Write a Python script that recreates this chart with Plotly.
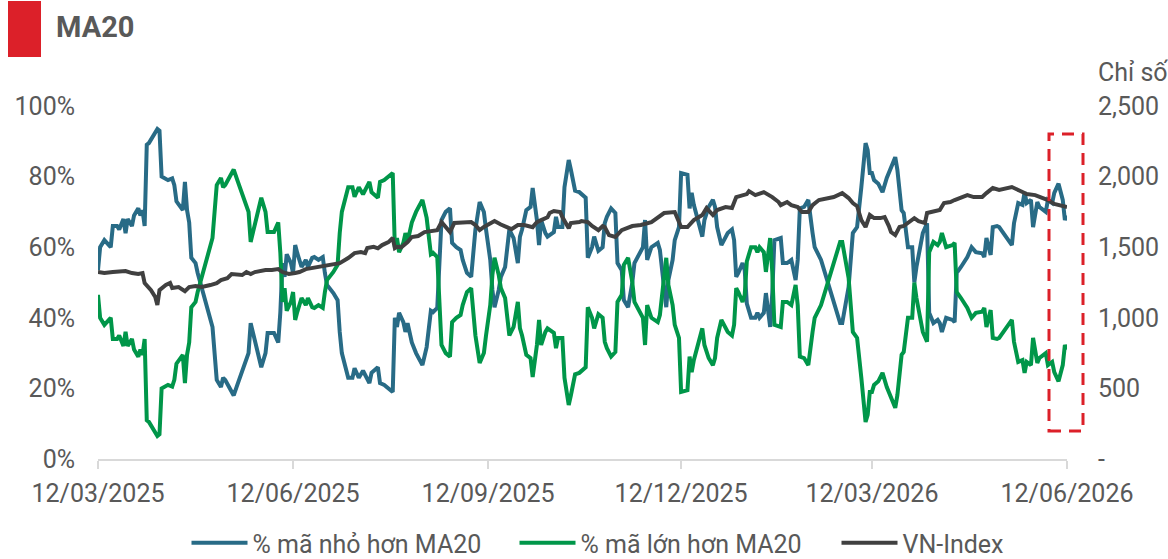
import plotly.graph_objects as go

# ---------------- DATA ----------------
pct_dates = [
    "2025-03-12", "2025-03-13", "2025-03-15", "2025-03-18", "2025-03-19", "2025-03-21", "2025-03-22", "2025-03-24", "2025-03-25", "2025-03-26",
    "2025-03-28", "2025-03-29", "2025-03-31", "2025-04-01", "2025-04-02", "2025-04-03", "2025-04-04", "2025-04-05", "2025-04-09", "2025-04-10",
    "2025-04-11", "2025-04-14", "2025-04-16", "2025-04-17", "2025-04-18", "2025-04-20", "2025-04-21", "2025-04-22", "2025-04-23", "2025-04-24",
    "2025-04-25", "2025-04-27", "2025-04-28", "2025-05-05", "2025-05-07", "2025-05-09", "2025-05-10", "2025-05-11", "2025-05-13", "2025-05-15",
    "2025-05-17", "2025-05-19", "2025-05-20", "2025-05-22", "2025-05-23", "2025-05-24", "2025-05-26", "2025-05-28", "2025-05-30", "2025-05-31",
    "2025-06-03", "2025-06-05", "2025-06-06", "2025-06-07", "2025-06-08", "2025-06-09", "2025-06-11", "2025-06-12", "2025-06-13", "2025-06-14",
    "2025-06-16", "2025-06-18", "2025-06-19", "2025-06-21", "2025-06-22", "2025-06-24", "2025-06-26", "2025-06-27", "2025-06-28", "2025-07-01",
    "2025-07-03", "2025-07-04", "2025-07-05", "2025-07-08", "2025-07-10", "2025-07-11", "2025-07-13", "2025-07-15", "2025-07-17", "2025-07-18",
    "2025-07-19", "2025-07-22", "2025-07-23", "2025-07-25", "2025-07-29", "2025-07-30", "2025-07-31", "2025-08-01", "2025-08-03", "2025-08-04",
    "2025-08-05", "2025-08-07", "2025-08-09", "2025-08-12", "2025-08-14", "2025-08-16", "2025-08-17", "2025-08-19", "2025-08-21", "2025-08-23",
    "2025-08-25", "2025-08-26", "2025-08-28", "2025-08-30", "2025-08-31", "2025-09-02", "2025-09-04", "2025-09-06", "2025-09-08", "2025-09-10",
    "2025-09-11", "2025-09-13", "2025-09-14", "2025-09-15", "2025-09-17", "2025-09-18", "2025-09-20", "2025-09-22", "2025-09-24", "2025-09-26",
    "2025-09-27", "2025-09-28", "2025-09-30", "2025-10-02", "2025-10-03", "2025-10-05", "2025-10-06", "2025-10-07", "2025-10-09", "2025-10-10",
    "2025-10-13", "2025-10-14", "2025-10-15", "2025-10-17", "2025-10-18", "2025-10-20", "2025-10-21", "2025-10-23", "2025-10-25", "2025-10-28",
    "2025-10-29", "2025-10-31", "2025-11-01", "2025-11-03", "2025-11-05", "2025-11-06", "2025-11-07", "2025-11-09", "2025-11-11", "2025-11-12",
    "2025-11-14", "2025-11-15", "2025-11-17", "2025-11-19", "2025-11-20", "2025-11-23", "2025-11-24", "2025-11-25", "2025-11-26", "2025-11-28",
    "2025-12-01", "2025-12-02", "2025-12-03", "2025-12-05", "2025-12-06", "2025-12-08", "2025-12-09", "2025-12-11", "2025-12-12", "2025-12-15",
    "2025-12-16", "2025-12-17", "2025-12-18", "2025-12-20", "2025-12-22", "2025-12-23", "2025-12-25", "2025-12-27", "2025-12-28", "2025-12-29",
    "2025-12-31", "2026-01-03", "2026-01-05", "2026-01-06", "2026-01-07", "2026-01-08", "2026-01-10", "2026-01-11", "2026-01-12", "2026-01-14",
    "2026-01-16", "2026-01-17", "2026-01-18", "2026-01-20", "2026-01-21", "2026-01-23", "2026-01-24", "2026-01-25", "2026-01-28", "2026-01-29",
    "2026-01-31", "2026-02-02", "2026-02-04", "2026-02-05", "2026-02-06", "2026-02-08", "2026-02-10", "2026-02-12", "2026-02-13", "2026-02-16",
    "2026-02-19", "2026-02-22", "2026-02-25", "2026-02-26", "2026-03-01", "2026-03-03", "2026-03-05", "2026-03-07", "2026-03-09", "2026-03-10",
    "2026-03-11", "2026-03-12", "2026-03-13", "2026-03-15", "2026-03-17", "2026-03-19", "2026-03-23", "2026-03-24", "2026-03-26", "2026-03-27",
    "2026-03-29", "2026-03-31", "2026-04-01", "2026-04-02", "2026-04-04", "2026-04-05", "2026-04-07", "2026-04-08", "2026-04-10", "2026-04-12",
    "2026-04-13", "2026-04-14", "2026-04-16", "2026-04-19", "2026-04-20", "2026-04-21", "2026-04-23", "2026-04-26", "2026-04-28", "2026-04-30",
    "2026-05-03", "2026-05-04", "2026-05-05", "2026-05-07", "2026-05-08", "2026-05-10", "2026-05-11", "2026-05-13", "2026-05-15", "2026-05-17",
    "2026-05-18", "2026-05-20", "2026-05-22", "2026-05-23", "2026-05-24", "2026-05-26", "2026-05-27", "2026-05-29", "2026-05-30", "2026-06-02",
    "2026-06-03", "2026-06-05", "2026-06-06", "2026-06-08", "2026-06-10", "2026-06-11", "2026-06-12",
]

below_ma20 = [
    53.5, 60, 62, 60, 66, 66, 65, 68, 64, 68,
    66, 69, 71, 69, 70.5, 66, 89, 89.5, 93.5, 93,
    80, 79, 79.5, 77.6, 73, 71.5, 70.5, 78.5, 70.5, 67,
    57, 55.5, 52.7, 37.4, 22.4, 20.4, 23, 22.4, 20.4, 18,
    21.5, 25, 27, 30, 38.5, 35.7, 31, 26, 30, 35.7,
    35.7, 33, 41.6, 55.5, 51.6, 58, 55.5, 52.7, 60.6, 58.3,
    54.4, 56.4, 54.4, 57, 57.2, 56.4, 57.2, 52.7, 49.3, 47,
    45, 36, 30, 23, 23, 25.7, 23, 25, 23, 21.5,
    24.4, 26, 21.5, 21, 19, 40, 37.4, 41.4, 38.8, 36,
    38.5, 33, 30, 26.6, 31.7, 42, 41.6, 42.8, 67.7, 70,
    71, 61.2, 60, 59.2, 56.4, 52.7, 51.6, 65, 72.8, 70,
    65, 56.4, 47.9, 43, 47.9, 51.6, 54.4, 65, 62.6, 55.5,
    63, 65, 70.5, 71.4, 76.8, 67.7, 60.6, 67.7, 64, 63,
    64.3, 68.6, 65.7, 65.7, 77, 84.7, 82, 76, 75.6, 74,
    57, 60, 63, 59, 60, 66.8, 68.6, 71, 69.7, 55.5,
    53.5, 45, 43, 50, 55.5, 59.2, 60, 67.7, 56.4, 60,
    61.2, 59.2, 54.4, 43, 50.7, 56.4, 62, 65.7, 81, 80.5,
    71, 75.4, 72, 67.7, 63, 67.7, 71.4, 73.4, 71.4, 65.7,
    60.6, 64, 65, 62, 51.6, 52.7, 55.5, 53.5, 44, 40,
    40, 41.4, 40, 41.4, 47, 37.4, 47, 62, 62.6, 55.5,
    55.5, 56.4, 50.7, 56.4, 71, 71.4, 73.4, 64, 60, 56.4,
    50.7, 45, 38.5, 38.5, 48.7, 64, 65.7, 77, 89.5, 87.5,
    81, 81, 79, 78, 75.6, 79.6, 85.5, 81.9, 70.5, 69.7,
    60, 60, 50, 54.4, 60, 64, 66.8, 41.4, 38.5, 39.4,
    38.5, 36, 40, 39.4, 38.8, 52.7, 54.4, 57.2, 60, 58.6,
    58.3, 57.2, 62.6, 57.8, 65.7, 66, 65.7, 64, 62.6, 60.6,
    66.8, 72.5, 72, 75.6, 72.5, 73.4, 65.7, 72.8, 71.4, 70,
    73.4, 72.5, 75.4, 78, 73.4, 67.7, 69,
]

above_ma20 = [
    46.5, 40, 38, 40, 34, 34, 35, 32, 36, 32,
    34, 31, 29, 31, 29.5, 34, 11, 10.5, 6.5, 7,
    20, 21, 20.5, 22.4, 27, 28.5, 29.5, 21.5, 29.5, 33,
    43, 44.5, 47.3, 62.6, 77.6, 79.6, 77, 77.6, 79.6, 82,
    78.5, 75, 73, 70, 61.5, 64.3, 69, 74, 70, 64.3,
    64.3, 67, 58.4, 44.5, 48.4, 42, 44.5, 47.3, 39.4, 41.7,
    45.6, 43.6, 45.6, 43, 42.8, 43.6, 42.8, 47.3, 50.7, 53,
    55, 64, 70, 77, 77, 74.3, 77, 75, 77, 78.5,
    75.6, 74, 78.5, 79, 81, 60, 62.6, 58.6, 61.2, 64,
    61.5, 67, 70, 73.4, 68.3, 58, 58.4, 57.2, 32.3, 30,
    29, 38.8, 40, 40.8, 43.6, 47.3, 48.4, 35, 27.2, 30,
    35, 43.6, 52.1, 57, 52.1, 48.4, 45.6, 35, 37.4, 44.5,
    37, 35, 29.5, 28.6, 23.2, 32.3, 39.4, 32.3, 36, 37,
    35.7, 31.4, 34.3, 34.3, 23, 15.3, 18, 24, 24.4, 26,
    43, 40, 37, 41, 40, 33.2, 31.4, 29, 30.3, 44.5,
    46.5, 55, 57, 50, 44.5, 40.8, 40, 32.3, 43.6, 40,
    38.8, 40.8, 45.6, 57, 49.3, 43.6, 38, 34.3, 19, 19.5,
    29, 24.6, 28, 32.3, 37, 32.3, 28.6, 26.6, 28.6, 34.3,
    39.4, 36, 35, 38, 48.4, 47.3, 44.5, 46.5, 56, 60,
    60, 58.6, 60, 58.6, 53, 62.6, 53, 38, 37.4, 44.5,
    44.5, 43.6, 49.3, 43.6, 29, 28.6, 26.6, 36, 40, 43.6,
    49.3, 55, 61.5, 61.5, 51.3, 36, 34.3, 23, 10.5, 12.5,
    19, 19, 21, 22, 24.4, 20.4, 14.5, 18.1, 29.5, 30.3,
    40, 40, 50, 45.6, 40, 36, 33.2, 58.6, 61.5, 60.6,
    61.5, 64, 60, 60.6, 61.2, 47.3, 45.6, 42.8, 40, 41.4,
    41.7, 42.8, 37.4, 42.2, 34.3, 34, 34.3, 36, 37.4, 39.4,
    33.2, 27.5, 28, 24.4, 27.5, 26.6, 34.3, 27.2, 28.6, 30,
    26.6, 27.5, 24.6, 22, 26.6, 32.3, 31,
]

vni_dates = [
    "2025-03-12", "2025-03-15", "2025-03-19", "2025-03-21", "2025-03-25", "2025-03-28", "2025-03-31", "2025-04-02", "2025-04-03", "2025-04-06",
    "2025-04-08", "2025-04-09", "2025-04-10", "2025-04-13", "2025-04-15", "2025-04-16", "2025-04-19", "2025-04-22", "2025-04-24", "2025-04-27",
    "2025-04-30", "2025-05-04", "2025-05-07", "2025-05-09", "2025-05-12", "2025-05-14", "2025-05-17", "2025-05-19", "2025-05-21", "2025-05-23",
    "2025-05-25", "2025-05-27", "2025-05-30", "2025-06-02", "2025-06-05", "2025-06-07", "2025-06-10", "2025-06-13", "2025-06-15", "2025-06-18",
    "2025-06-21", "2025-06-24", "2025-06-27", "2025-06-30", "2025-07-04", "2025-07-08", "2025-07-11", "2025-07-14", "2025-07-16", "2025-07-17",
    "2025-07-20", "2025-07-22", "2025-07-24", "2025-07-27", "2025-07-29", "2025-07-30", "2025-07-31", "2025-08-02", "2025-08-05", "2025-08-07",
    "2025-08-10", "2025-08-13", "2025-08-16", "2025-08-19", "2025-08-21", "2025-08-23", "2025-08-25", "2025-08-27", "2025-08-31", "2025-09-04",
    "2025-09-06", "2025-09-08", "2025-09-10", "2025-09-13", "2025-09-15", "2025-09-18", "2025-09-23", "2025-09-26", "2025-09-29", "2025-10-03",
    "2025-10-05", "2025-10-07", "2025-10-10", "2025-10-11", "2025-10-13", "2025-10-16", "2025-10-17", "2025-10-20", "2025-10-21", "2025-10-25",
    "2025-10-26", "2025-10-29", "2025-10-31", "2025-11-03", "2025-11-05", "2025-11-06", "2025-11-08", "2025-11-11", "2025-11-14", "2025-11-19",
    "2025-11-23", "2025-11-28", "2025-12-01", "2025-12-04", "2025-12-09", "2025-12-12", "2025-12-15", "2025-12-18", "2025-12-22", "2025-12-24",
    "2025-12-27", "2025-12-29", "2026-01-02", "2026-01-05", "2026-01-07", "2026-01-10", "2026-01-12", "2026-01-13", "2026-01-16", "2026-01-20",
    "2026-01-24", "2026-01-27", "2026-01-28", "2026-01-31", "2026-02-02", "2026-02-05", "2026-02-07", "2026-02-10", "2026-02-12", "2026-02-15",
    "2026-02-18", "2026-02-22", "2026-02-26", "2026-03-01", "2026-03-03", "2026-03-05", "2026-03-07", "2026-03-09", "2026-03-11", "2026-03-13",
    "2026-03-16", "2026-03-18", "2026-03-20", "2026-03-21", "2026-03-23", "2026-03-25", "2026-03-27", "2026-03-29", "2026-04-01", "2026-04-03",
    "2026-04-06", "2026-04-07", "2026-04-09", "2026-04-13", "2026-04-15", "2026-04-18", "2026-04-20", "2026-04-23", "2026-04-26", "2026-04-29",
    "2026-05-03", "2026-05-05", "2026-05-08", "2026-05-11", "2026-05-15", "2026-05-17", "2026-05-21", "2026-05-24", "2026-05-28", "2026-05-31",
    "2026-06-03", "2026-06-06", "2026-06-10", "2026-06-12",
]

vn_index = [
    1324, 1317, 1324, 1324, 1331, 1317, 1310, 1317, 1246, 1196,
    1147, 1090, 1196, 1232, 1246, 1211, 1218, 1189, 1218, 1225,
    1218, 1232, 1246, 1267, 1281, 1310, 1303, 1303, 1324, 1310,
    1324, 1331, 1338, 1338, 1345, 1324, 1310, 1317, 1324, 1345,
    1352, 1359, 1366, 1373, 1387, 1423, 1458, 1465, 1458, 1494,
    1503, 1492, 1515, 1536, 1565, 1494, 1503, 1499, 1536, 1572,
    1579, 1607, 1614, 1621, 1678, 1643, 1607, 1671, 1675, 1678,
    1657, 1621, 1643, 1664, 1685, 1661, 1628, 1657, 1657, 1642,
    1678, 1692, 1712, 1742, 1756, 1749, 1713, 1635, 1671, 1678,
    1685, 1678, 1650, 1621, 1650, 1643, 1586, 1572, 1621, 1650,
    1657, 1678, 1706, 1742, 1749, 1643, 1643, 1692, 1728, 1777,
    1728, 1763, 1784, 1777, 1855, 1869, 1876, 1897, 1869, 1890,
    1855, 1820, 1798, 1820, 1798, 1784, 1749, 1749, 1798, 1834,
    1841, 1855, 1883, 1848, 1813, 1791, 1692, 1643, 1728, 1706,
    1706, 1713, 1650, 1607, 1586, 1643, 1650, 1671, 1706, 1685,
    1671, 1742, 1749, 1763, 1813, 1820, 1834, 1855, 1869, 1855,
    1855, 1883, 1919, 1905, 1919, 1926, 1898, 1876, 1869, 1855,
    1834, 1806, 1791, 1784,
]

x_tick_vals = ["2025-03-12", "2025-06-12", "2025-09-12", "2025-12-12", "2026-03-12", "2026-06-12"]
x_tick_text = ["12/03/2025", "12/06/2025", "12/09/2025", "12/12/2025", "12/03/2026", "12/06/2026"]
y_tick_vals = [0, 20, 40, 60, 80, 100]
y_tick_text = ["0%", "20%", "40%", "60%", "80%", "100%"]
y2_tick_vals = [0, 500, 1000, 1500, 2000, 2500]
y2_tick_text = ["-", "500", "1,000", "1,500", "2,000", "2,500"]

series_names = ["% mã nhỏ hơn MA20", "% mã lớn hơn MA20", "VN-Index"]

if len(pct_dates) != len(below_ma20) or len(pct_dates) != len(above_ma20):
    raise SystemExit(f"length mismatch pct {len(pct_dates)} {len(below_ma20)} {len(above_ma20)}")
if len(vni_dates) != len(vn_index):
    raise SystemExit(f"length mismatch vni {len(vni_dates)} {len(vn_index)}")

# ---------------- STYLE ----------------
BLUE = "#286B86"
GREEN = "#009649"
DARK = "#404040"
RED = "#DC2029"
TXT = "#595959"
AXIS = "#D9D9D9"
FONT = "Roboto"
FS = 25

fig = go.Figure()
fig.add_trace(go.Scatter(x=pct_dates, y=below_ma20, name=series_names[0], mode="lines",
                         line=dict(color=BLUE, width=4), legendwidth=257))
fig.add_trace(go.Scatter(x=pct_dates, y=above_ma20, name=series_names[1], mode="lines",
                         line=dict(color=GREEN, width=4), legendwidth=251))
fig.add_trace(go.Scatter(x=vni_dates, y=vn_index, name=series_names[2], mode="lines",
                         line=dict(color=DARK, width=4), yaxis="y2"))

# plot area: x 98..1067, y 106..459
L, R, T, B = 98, 101, 106, 100
W, H = 1168, 559
pw, ph = W - L - R, H - T - B

def px(x):
    return (x - L) / pw

def py(y):
    return (H - B - y) / ph

fig.update_layout(
    width=W, height=H,
    margin=dict(l=L, r=R, t=T, b=B, pad=0, autoexpand=False),
    paper_bgcolor="white", plot_bgcolor="white",
    font=dict(family=FONT, color=TXT, size=FS),
    showlegend=True,
    legend=dict(orientation="h", xref="container", yref="container",
                x=598 / W, xanchor="center", y=(H - 543) / H, yanchor="middle",
                font=dict(family=FONT, size=FS, color=TXT), bgcolor="rgba(0,0,0,0)",
                itemwidth=56, tracegroupgap=0),
    xaxis=dict(type="date", range=[x_tick_vals[0], x_tick_vals[-1]],
               tickvals=x_tick_vals, ticktext=x_tick_text, automargin=False,
               showgrid=False, zeroline=False, showline=True, linecolor=AXIS, linewidth=2,
               ticks="outside", ticklen=8, tickwidth=2, tickcolor=AXIS,
               ticklabelstandoff=3,
               tickfont=dict(family=FONT, size=FS, color=TXT)),
    yaxis=dict(range=[0, 100], tickvals=y_tick_vals, ticktext=y_tick_text, automargin=False,
               showgrid=False, zeroline=False, showline=False, ticks="",
               ticklabelstandoff=22,
               tickfont=dict(family=FONT, size=FS, color=TXT)),
    yaxis2=dict(range=[0, 2500], tickvals=y2_tick_vals, ticktext=y2_tick_text, automargin=False,
                overlaying="y", side="right",
                showgrid=False, zeroline=False, showline=False, ticks="",
                ticklabelstandoff=30,
                tickfont=dict(family=FONT, size=FS, color=TXT)),
    shapes=[
        dict(type="rect", xref="paper", yref="paper",
             x0=px(8), x1=px(41), y0=py(57), y1=py(1),
             fillcolor=RED, line=dict(width=0), layer="above"),
        dict(type="rect", xref="paper", yref="paper",
             x0=px(1049), x1=px(1083), y0=py(431), y1=py(134),
             fillcolor="rgba(0,0,0,0)", line=dict(color=RED, width=3, dash="12px,8px"),
             layer="above"),
    ],
    annotations=[
        dict(text="<b>MA20</b>", xref="paper", yref="paper", x=px(54), y=py(27),
             xanchor="left", yanchor="middle", showarrow=False,
             font=dict(family=FONT, size=29, color=TXT)),
        dict(text="Chỉ số", xref="paper", yref="paper", x=px(1096), y=py(72),
             xanchor="left", yanchor="middle", showarrow=False,
             font=dict(family=FONT, size=FS, color=TXT)),
    ],
)

fig.write_html("out.html", config={"displayModeBar": False})

with open("out.html", "r", encoding="utf-8") as f:
    html = f.read()
html = html.replace("<head>", "<head><style>html,body{margin:0;padding:0;overflow:hidden;}</style>", 1)
with open("out.html", "w", encoding="utf-8") as f:
    f.write(html)
